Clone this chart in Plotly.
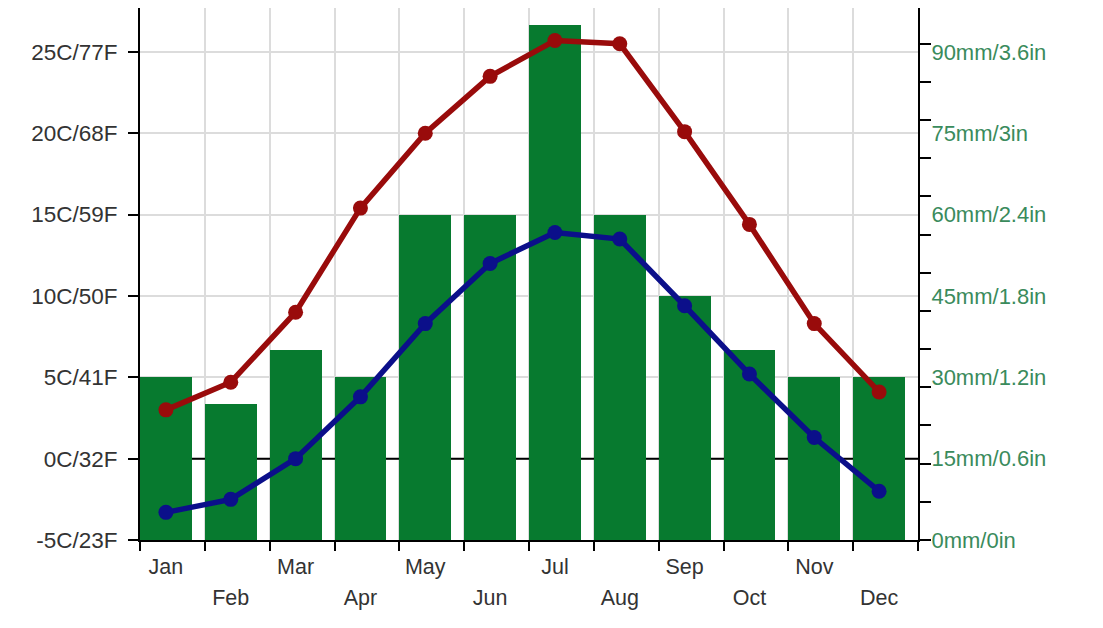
import plotly.graph_objects as go

# monthly climate data
months = ["Jan", "Feb", "Mar", "Apr", "May", "Jun",
          "Jul", "Aug", "Sep", "Oct", "Nov", "Dec"]
precip_mm = [30, 25, 35, 30, 60, 60, 95, 60, 45, 35, 30, 30]
temp_max = [3.0, 4.7, 9.0, 15.4, 20.0, 23.5, 25.7, 25.5, 20.1, 14.4, 8.3, 4.1]
temp_min = [-3.3, -2.5, 0.0, 3.8, 8.3, 12.0, 13.9, 13.5, 9.4, 5.2, 1.3, -2.0]

temp_ticks = [-5, 0, 5, 10, 15, 20, 25]
temp_labels = ["-5C/23F", "0C/32F", "5C/41F", "10C/50F", "15C/59F", "20C/68F", "25C/77F"]
rain_ticks = [0, 15, 30, 45, 60, 75, 90]
rain_labels = ["0mm/0in", "15mm/0.6in", "30mm/1.2in", "45mm/1.8in",
               "60mm/2.4in", "75mm/3in", "90mm/3.6in"]

FONT = "Liberation Sans, Arial, sans-serif"
GREEN = "#077a2f"
RED = "#990b0b"
BLUE = "#0b0f8a"

# bars sit at the left of each month slot, points on the bar centres
xs = [i + 0.4 for i in range(len(months))]

t_lo, t_hi = -5, 27.7
mm_per_c = 3.0
zero_mm = (0 - t_lo) * mm_per_c

fig = go.Figure()

# bars on x/y (precipitation), lines on the overlaid x2/y2 so they sit on top
fig.add_trace(go.Bar(
    x=xs, y=precip_mm, width=0.8,
    marker=dict(color=GREEN, line=dict(width=0)),
    xaxis="x", yaxis="y", name="Precipitation",
))
fig.add_trace(go.Scatter(
    x=xs, y=temp_max, mode="lines+markers", xaxis="x2", yaxis="y2",
    line=dict(color=RED, width=5.5), marker=dict(color=RED, size=15),
    name="Max",
))
fig.add_trace(go.Scatter(
    x=xs, y=temp_min, mode="lines+markers", xaxis="x2", yaxis="y2",
    line=dict(color=BLUE, width=5.5), marker=dict(color=BLUE, size=15),
    name="Min",
))

# black 0C line behind the bars
fig.add_shape(type="line", xref="x", x0=0, x1=len(months), yref="y", y0=zero_mm, y1=zero_mm,
              line=dict(color="black", width=2), layer="between")

fig.update_layout(
    width=1095, height=620,
    margin=dict(l=132, r=185, t=0, b=88),
    paper_bgcolor="white", plot_bgcolor="white",
    showlegend=False, bargap=0,
    font=dict(family=FONT, size=21, color="#333333"),
    xaxis=dict(
        range=[0, 12], tickmode="array", tickvals=xs[0::2], ticktext=months[0::2],
        ticks="", showgrid=False, zeroline=False, ticklabelstandoff=6,
        showline=True, linecolor="black", linewidth=2,
        tickfont=dict(size=21.5, color="#333333"),
        minor=dict(tickmode="linear", tick0=0, dtick=1, ticks="outside",
                   ticklen=9, tickwidth=2, tickcolor="black",
                   showgrid=True, gridcolor="#dcdcdc", gridwidth=1.5),
    ),
    xaxis2=dict(
        overlaying="x", anchor="y2", side="bottom", range=[0, 12],
        tickmode="array", tickvals=xs[1::2], ticktext=months[1::2],
        ticks="", showgrid=False, zeroline=False, showline=False,
        ticklabelstandoff=42,
        tickfont=dict(size=21.5, color="#333333"),
    ),
    yaxis=dict(
        side="right", range=[0, (t_hi - t_lo) * mm_per_c],
        tickmode="array", tickvals=rain_ticks, ticktext=rain_labels,
        ticks="", showgrid=True, gridcolor="#dcdcdc", gridwidth=1.5,
        zeroline=False, showline=True, linecolor="black", linewidth=2,
        ticklabelstandoff=7,
        tickfont=dict(size=22, color="#3a8b5c"),
        minor=dict(tickmode="linear", tick0=0, dtick=7.04, ticks="outside",
                   ticklen=11, tickwidth=2, tickcolor="black", showgrid=False),
    ),
    yaxis2=dict(
        overlaying="y", anchor="x2", side="left", range=[t_lo, t_hi],
        tickmode="array", tickvals=temp_ticks, ticktext=temp_labels,
        ticks="outside", ticklen=10, tickwidth=2, tickcolor="black",
        showgrid=False, zeroline=False, ticklabelstandoff=6,
        showline=True, linecolor="black", linewidth=2,
        tickfont=dict(size=22.5, color="#333333"),
    ),
)

fig.write_html("out.html")
